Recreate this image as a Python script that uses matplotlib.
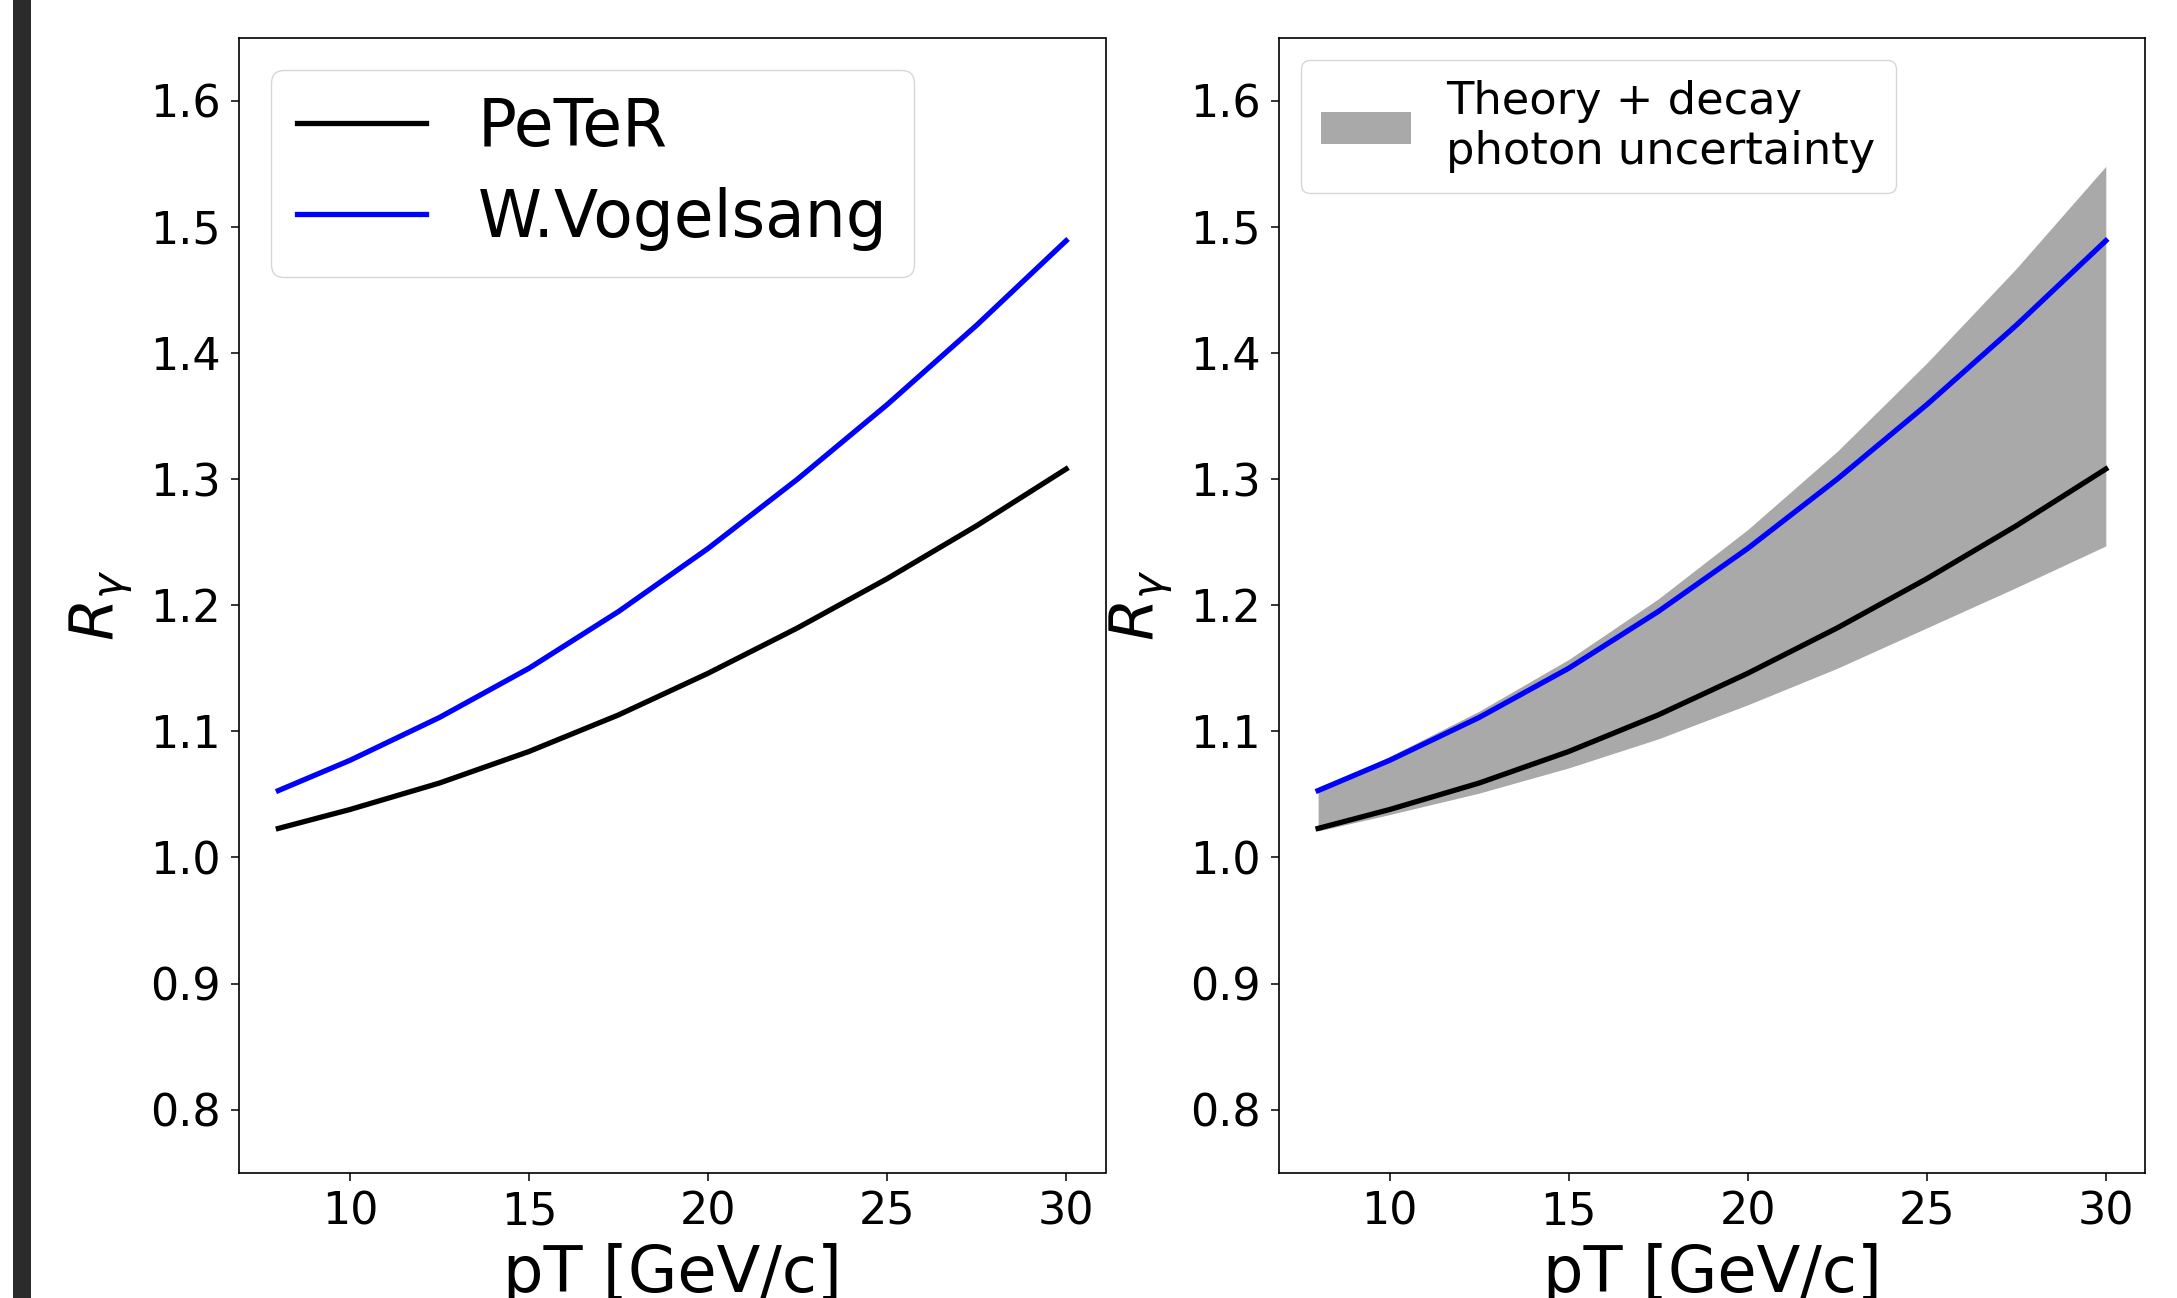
import matplotlib
matplotlib.use("Agg")
import matplotlib.pyplot as plt
from matplotlib.patches import Rectangle

# values
pt = [8, 10, 12.5, 15, 17.5, 20, 22.5, 25, 27.5, 30]
peter = [1.023, 1.038, 1.059, 1.084, 1.113, 1.146, 1.182, 1.221, 1.263, 1.308]
vogelsang = [1.053, 1.077, 1.111, 1.150, 1.195, 1.245, 1.300, 1.359, 1.422, 1.489]
band_low = [1.021, 1.034, 1.051, 1.071, 1.094, 1.121, 1.150, 1.182, 1.214, 1.247]
band_high = [1.054, 1.080, 1.116, 1.157, 1.205, 1.260, 1.322, 1.392, 1.467, 1.548]

yticks = [0.8, 0.9, 1.0, 1.1, 1.2, 1.3, 1.4, 1.5, 1.6]
xticks = [10, 15, 20, 25, 30]

W, H = 2177, 1298
fig = plt.figure(figsize=(W / 100, H / 100), dpi=100)

# dark strip at the left edge of the screenshot
fig.patches.append(Rectangle((12.7 / W, 0), 18.3 / W, 1, transform=fig.transFigure,
                             facecolor="#2b2b2b", edgecolor="none"))

ax_w = 866.5 / W
ax_h = (1172.7 - 37.7) / H
ax_b = 1 - 1172.7 / H
ax1 = fig.add_axes([239 / W, ax_b, ax_w, ax_h])
ax2 = fig.add_axes([1278.7 / W, ax_b, ax_w, ax_h])

label_size = 46
tick_size = 32

for ax in (ax1, ax2):
    ax.set_xlim(6.9, 31.1)
    ax.set_ylim(0.75, 1.65)
    ax.set_xticks(xticks)
    ax.set_yticks(yticks)
    ax.set_yticklabels([f"{v:.1f}" for v in yticks])
    ax.tick_params(labelsize=tick_size, length=5.8, width=1.1, pad=7)
    for sp in ax.spines.values():
        sp.set_linewidth(1.2)
    ax.set_xlabel("pT [GeV/c]", fontsize=label_size)
    ax.set_ylabel(r"$R_\gamma$", fontsize=44)
    ax.xaxis.set_label_coords(0.5, -0.062)
    ax.yaxis.set_label_coords(-0.12, 0.5)

# left panel
ax1.plot(pt, peter, color="black", lw=3.8, label="PeTeR")
ax1.plot(pt, vogelsang, color="blue", lw=3.8, label="W.Vogelsang")
ax1.legend(loc="upper left", fontsize=46.5, labelspacing=0.42)

# right panel
ax2.fill_between(pt, band_low, band_high, color="darkgray", lw=0,
                 label="Theory + decay\nphoton uncertainty")
ax2.plot(pt, vogelsang, color="blue", lw=3.8)
ax2.plot(pt, peter, color="black", lw=3.8)
ax2.legend(loc="upper left", fontsize=32.2, borderpad=0.45)

fig.savefig("out.png", dpi=100)
